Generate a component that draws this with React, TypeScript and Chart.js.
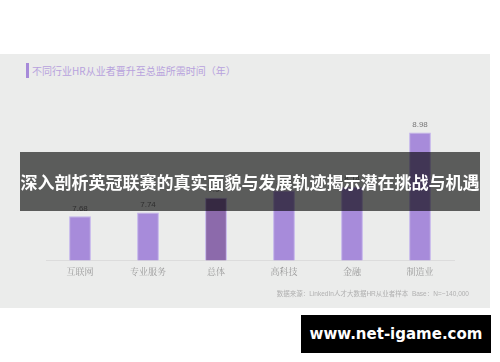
import React, { useEffect, useRef } from "react";
import { Chart, registerables } from "chart.js";

Chart.register(...registerables);

const categories = ["互联网", "专业服务", "总体", "高科技", "金融", "制造业"];
const years = [7.68, 7.74, 7.97, 8.08, 8.14, 8.98];
const barColors = ["#a78bda", "#a78bda", "#8c6aab", "#a78bda", "#a78bda", "#a78bda"];
const titleText = "不同行业HR从业者晋升至总监所需时间（年）";
const sourceText = "数据来源：LinkedIn人才大数据HR从业者样本  Base：N=~140,000";
const bannerText = "深入剖析英冠联赛的真实面貌与发展轨迹揭示潜在挑战与机遇";
const watermarkText = "www.net-igame.com";

const valueLabels = {
  id: "valueLabels",
  afterDatasetsDraw(chart: any) {
    const ctx = chart.ctx;
    const meta = chart.getDatasetMeta(0);
    ctx.save();
    ctx.font = "8px 'Liberation Sans', Arial, sans-serif";
    ctx.fillStyle = "#777";
    ctx.textAlign = "center";
    ctx.textBaseline = "bottom";
    meta.data.forEach((bar: any, i: number) => {
      ctx.fillText(years[i].toFixed(2), bar.x, bar.y - 4);
    });
    ctx.restore();
  },
};

export default function App() {
  const ref = useRef<HTMLCanvasElement>(null);
  useEffect(() => {
    if (!ref.current) return;
    const chart = new Chart(ref.current, {
      type: "bar",
      data: {
        labels: categories,
        datasets: [
          {
            data: years,
            backgroundColor: barColors,
            borderColor: "rgba(190,172,236,0.9)",
            borderWidth: 1,
            categoryPercentage: 1,
            barPercentage: 0.32,
          },
        ],
      },
      options: {
        animation: false,
        responsive: false,
        maintainAspectRatio: false,
        layout: { padding: { left: 46, right: 46, top: 99, bottom: 79 } },
        plugins: { legend: { display: false }, tooltip: { enabled: false }, title: { display: false } },
        scales: {
          y: { display: false, min: 7, max: 9.5 },
          x: {
            grid: { display: false, drawTicks: false },
            border: { display: true, color: "#dcdcdc", width: 1 },
            ticks: {
              color: "#9a9a9a",
              padding: 6,
              font: { size: 9, family: "'Noto Serif CJK SC', 'Noto Sans CJK SC', serif" },
            },
          },
        },
      },
      plugins: [valueLabels],
    });
    return () => chart.destroy();
  }, []);

  return (
    <div style={{ position: "absolute", left: 0, top: 0, width: 500, height: 362, background: "#fff", overflow: "hidden" }}>
      <div style={{ position: "absolute", left: 0, top: 54, width: 490, height: 254, background: "#ebeceb" }} />
      <div style={{ position: "absolute", left: 26, top: 63, width: 2.5, height: 15, background: "#a68ad9" }} />
      <div
        style={{
          position: "absolute",
          left: 32,
          top: 64,
          fontSize: 10,
          lineHeight: "14px",
          color: "#b7a2dd",
          fontFamily: "'Noto Sans CJK SC', sans-serif",
          whiteSpace: "nowrap",
        }}
      >
        {titleText}
      </div>
      <canvas ref={ref} width={500} height={362} style={{ position: "absolute", left: 0, top: 0, width: 500, height: 362 }} />
      <div
        style={{
          position: "absolute",
          right: 31,
          top: 289,
          fontSize: 6.5,
          lineHeight: "10px",
          color: "#b0b0b0",
          fontFamily: "'Liberation Sans', 'Noto Sans CJK SC', sans-serif",
          whiteSpace: "pre",
        }}
      >
        {sourceText}
      </div>
      <div
        style={{
          position: "absolute",
          left: 20,
          top: 152,
          width: 460,
          height: 59,
          background: "rgba(0,0,0,0.61)",
          display: "flex",
          alignItems: "center",
          justifyContent: "center",
          color: "#fff",
          fontWeight: "bold",
          fontSize: 17,
          fontFamily: "'Noto Sans CJK SC', sans-serif",
          whiteSpace: "nowrap",
        }}
      >
        <span style={{ position: "relative", top: 0 }}>{bannerText}</span>
      </div>
      <div
        style={{
          position: "absolute",
          left: 301,
          top: 315,
          width: 190,
          height: 38,
          background: "#000",
          display: "flex",
          alignItems: "center",
          justifyContent: "center",
          color: "#fff",
          fontWeight: "bold",
          fontSize: 15,
          fontFamily: "'DejaVu Sans', sans-serif",
          whiteSpace: "nowrap",
        }}
      >
        {watermarkText}
      </div>
    </div>
  );
}
